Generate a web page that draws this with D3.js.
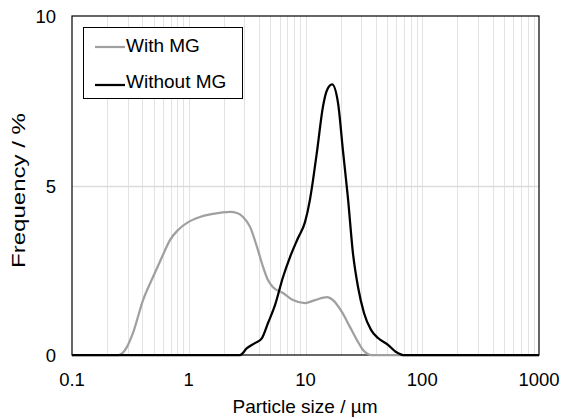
<!DOCTYPE html>
<html>
<head>
<meta charset="utf-8">
<script src="https://cdn.jsdelivr.net/npm/d3@7"></script>
<style>
    body { margin: 0; background: #fff; }
    svg { display: block; font-family: "Liberation Sans", Arial, sans-serif; }
    .tick-label { font-size: 18.5px; fill: #000; }
    .axis-title { font-size: 19px; fill: #000; }
    .legend-text { font-size: 19px; fill: #000; }
</style>
</head>
<body>
<svg id="chart" width="562" height="419"></svg>
<script>
// particle size (µm) and frequency (%)
const withSize = [0.1, 0.25, 0.296, 0.333, 0.406, 0.494, 0.59, 0.69, 0.81, 0.99, 1.25, 1.61, 2.26, 2.59, 2.92, 3.35, 3.84, 4.33, 4.77, 5.27, 6.42, 7.82, 9.9, 12.05, 15.3, 17.2, 20.5, 24, 27.6, 31.1, 37, 1000];
const withFreq = [0, 0, 0.24, 0.65, 1.62, 2.3, 2.89, 3.39, 3.69, 3.92, 4.07, 4.16, 4.22, 4.19, 4.07, 3.78, 3.19, 2.6, 2.21, 2.0, 1.83, 1.62, 1.53, 1.62, 1.71, 1.62, 1.27, 0.83, 0.44, 0.15, 0, 0];

const withoutSize = [0.1, 2.75, 3.15, 3.69, 4.24, 4.77, 5.48, 6.42, 7.37, 8.63, 9.9, 10.9, 11.6, 12.6, 14.1, 15.3, 16.9, 19.0, 20.9, 23.1, 25.5, 28.2, 31.7, 36.4, 41.8, 50.9, 59.6, 68.4, 1000];
const withoutFreq = [0, 0, 0.2, 0.35, 0.5, 0.94, 1.47, 2.3, 2.89, 3.45, 3.92, 4.57, 5.16, 6.05, 7.32, 7.82, 7.98, 7.43, 6.05, 4.63, 3.0, 2.0, 1.24, 0.74, 0.5, 0.3, 0.09, 0, 0];

const xTicks = [0.1, 1, 10, 100, 1000];
const yTicks = [0, 5, 10];
const seriesNames = ['With MG', 'Without MG'];
const seriesColors = ['#a0a0a0', '#000000'];

const plotLeft = 72, plotRight = 539, plotTop = 16, plotBottom = 355;

const svg = d3.select('#chart');

const x = d3.scaleLog().domain([0.1, 1000]).range([plotLeft, plotRight]);
const y = d3.scaleLinear().domain([0, 10]).range([plotBottom, plotTop]);

// minor + major vertical grid
let gridX = [];
for (let dec = 0.1; dec < 1000; dec *= 10) {
    for (let m = 1; m <= 9; m++) {
        const v = +(dec * m).toPrecision(3);
        if (v > 0.1 && v < 1000) gridX.push(v);
    }
}

svg.selectAll('.grid-x')
    .data(gridX)
    .enter()
    .append('line')
    .attr('class', 'grid-x')
    .attr('x1', d => Math.round(x(d)) + 0.5)
    .attr('x2', d => Math.round(x(d)) + 0.5)
    .attr('y1', plotTop)
    .attr('y2', plotBottom)
    .attr('stroke', '#e3e3e3')
    .attr('stroke-width', 1);

svg.selectAll('.grid-y')
    .data(yTicks.filter(d => d > 0 && d < 10))
    .enter()
    .append('line')
    .attr('class', 'grid-y')
    .attr('x1', plotLeft)
    .attr('x2', plotRight)
    .attr('y1', d => Math.round(y(d)) + 0.5)
    .attr('y2', d => Math.round(y(d)) + 0.5)
    .attr('stroke', '#dcdcdc')
    .attr('stroke-width', 1.5);

// frame
svg.append('rect')
    .attr('x', plotLeft)
    .attr('y', plotTop)
    .attr('width', plotRight - plotLeft)
    .attr('height', plotBottom - plotTop)
    .attr('fill', 'none')
    .attr('stroke', '#000')
    .attr('stroke-width', 1.2);

// tick labels
svg.selectAll('.x-label')
    .data(xTicks)
    .enter()
    .append('text')
    .attr('class', 'tick-label')
    .attr('x', d => x(d))
    .attr('y', 386)
    .attr('text-anchor', 'middle')
    .text(d => d);

svg.selectAll('.y-label')
    .data(yTicks)
    .enter()
    .append('text')
    .attr('class', 'tick-label')
    .attr('x', 56)
    .attr('y', d => y(d) + 7)
    .attr('text-anchor', 'end')
    .text(d => d);

// axis titles
svg.append('text')
    .attr('class', 'axis-title')
    .attr('x', 305)
    .attr('y', 413)
    .attr('text-anchor', 'middle')
    .text('Particle size / µm');

// the y title is drawn stretched along its length in the source
svg.append('text')
    .attr('class', 'axis-title')
    .attr('transform', 'translate(25,190.5) rotate(-90)')
    .attr('text-anchor', 'middle')
    .attr('textLength', 155)
    .attr('lengthAdjust', 'spacingAndGlyphs')
    .text('Frequency / %');

// curves
const line = d3.line()
    .x(d => x(d[0]))
    .y(d => y(d[1]))
    .curve(d3.curveMonotoneX);

const series = [
    d3.zip(withSize, withFreq),
    d3.zip(withoutSize, withoutFreq)
];

svg.selectAll('.curve')
    .data(series)
    .enter()
    .append('path')
    .attr('class', 'curve')
    .attr('d', d => line(d))
    .attr('fill', 'none')
    .attr('stroke', (d, i) => seriesColors[i])
    .attr('stroke-width', 2.25)
    .attr('stroke-linejoin', 'round');

// legend
const legend = svg.append('g');
legend.append('rect')
    .attr('x', 83.5)
    .attr('y', 27.5)
    .attr('width', 159)
    .attr('height', 71)
    .attr('fill', '#fff')
    .attr('stroke', '#000')
    .attr('stroke-width', 1);

seriesNames.forEach((name, i) => {
    const ly = 47 + i * 38;
    legend.append('line')
        .attr('x1', 95)
        .attr('x2', 125)
        .attr('y1', ly)
        .attr('y2', ly)
        .attr('stroke', seriesColors[i])
        .attr('stroke-width', 2.25);
    legend.append('text')
        .attr('class', 'legend-text')
        .attr('x', 126)
        .attr('y', ly + 5 - i * 2)
        .text(name);
});
</script>
</body>
</html>
